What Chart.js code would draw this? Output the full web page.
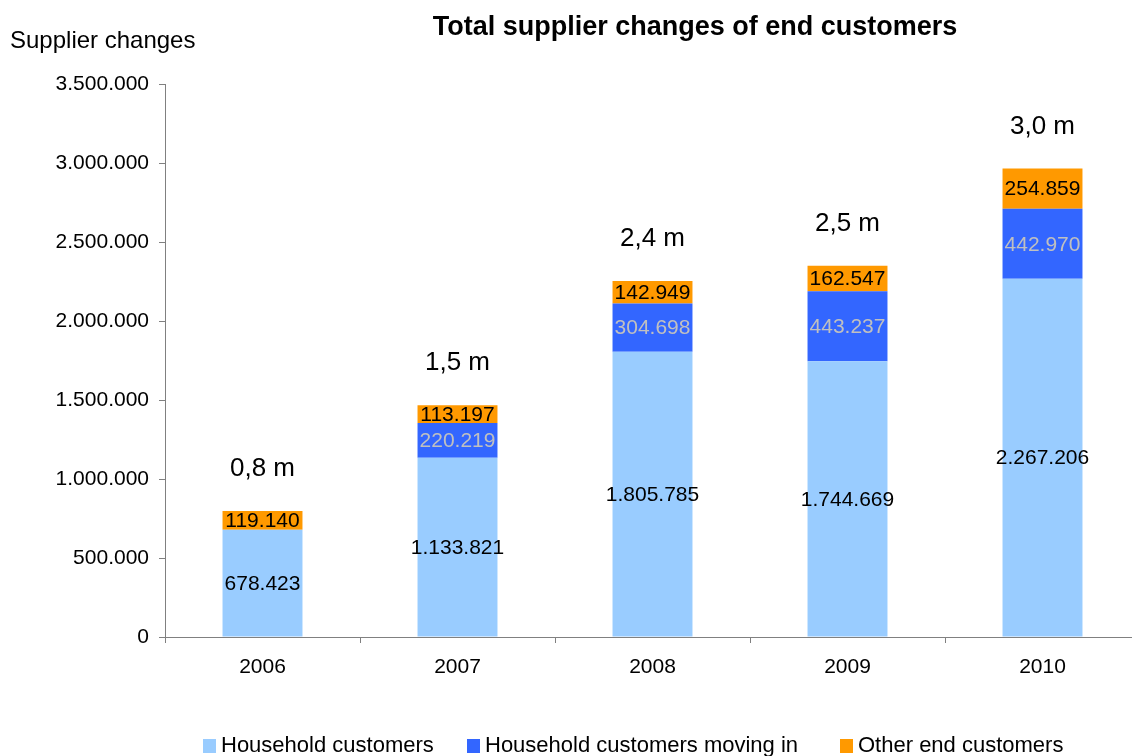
<!DOCTYPE html>
<html>
<head>
<meta charset="utf-8">
<script src="https://cdn.jsdelivr.net/npm/chart.js@4"></script>
<style>
html,body{margin:0;padding:0;background:#fff;overflow:hidden;width:1132px;height:756px;}
#wrap{width:1150px;height:756px;}
</style>
</head>
<body>
<div id="wrap"><canvas id="c" width="1150" height="756"></canvas></div>
<script>
const categories = ['2006', '2007', '2008', '2009', '2010'];
const householdCustomers = [678423, 1133821, 1805785, 1744669, 2267206];
const householdMovingIn = [null, 220219, 304698, 443237, 442970];
const otherEndCustomers = [119140, 113197, 142949, 162547, 254859];
const totalLabels = ['0,8 m', '1,5 m', '2,4 m', '2,5 m', '3,0 m'];
const seriesNames = ['Household customers', 'Household customers moving in', 'Other end customers'];
const yTicks = [0, 500000, 1000000, 1500000, 2000000, 2500000, 3000000, 3500000];

const FONT = '"Liberation Sans", Arial, sans-serif';
const fmt = v => String(Math.round(v)).replace(/\B(?=(\d{3})+(?!\d))/g, '.');

const labelColors = ['#000000', '#C0C0C0', '#000000'];
const legendX = [203, 467, 840];

const overlay = {
  id: 'overlay',
  afterDatasetsDraw(chart) {
    const ctx = chart.ctx;
    ctx.save();
    chart.data.datasets.forEach((ds, di) => {
      const meta = chart.getDatasetMeta(di);
      meta.data.forEach((el, i) => {
        const v = ds.data[i];
        if (v == null || v === 0) return;
        const p = el.getProps(['x', 'y', 'base'], true);
        ctx.font = '21px ' + FONT;
        ctx.fillStyle = labelColors[di];
        ctx.textAlign = 'center';
        ctx.textBaseline = 'middle';
        ctx.fillText(fmt(v), p.x, (p.y + p.base) / 2 + 1);
      });
    });
    const y = chart.scales.y, x = chart.scales.x;
    categories.forEach((c, i) => {
      const tot = (householdCustomers[i] || 0) + (householdMovingIn[i] || 0) + (otherEndCustomers[i] || 0);
      ctx.font = '26px ' + FONT;
      ctx.fillStyle = '#000';
      ctx.textAlign = 'center';
      ctx.textBaseline = 'middle';
      ctx.fillText(totalLabels[i], x.getPixelForValue(i), y.getPixelForValue(tot) - 42);
    });
    ctx.font = 'bold 27px ' + FONT;
    ctx.fillText('Total supplier changes of end customers', 695, 28);
    ctx.font = '24px ' + FONT;
    ctx.textAlign = 'left';
    ctx.fillText('Supplier changes', 10, 41);
    const ly = 746;
    chart.data.datasets.forEach((ds, di) => {
      const lx = legendX[di];
      ctx.fillStyle = ds.backgroundColor;
      ctx.fillRect(lx, ly - 7, 13, 14);
      ctx.fillStyle = '#000';
      ctx.font = '22px ' + FONT;
      ctx.textAlign = 'left';
      ctx.fillText(ds.label, lx + 18, ly);
    });
    ctx.restore();
  }
};

new Chart(document.getElementById('c'), {
  type: 'bar',
  data: {
    labels: categories,
    datasets: [
      { label: seriesNames[0], data: householdCustomers, backgroundColor: '#99CCFF' },
      { label: seriesNames[1], data: householdMovingIn, backgroundColor: '#3366FF' },
      { label: seriesNames[2], data: otherEndCustomers, backgroundColor: '#FF9900' }
    ]
  },
  options: {
    responsive: false,
    animation: false,
    devicePixelRatio: 1,
    layout: { padding: { top: 84, right: 10, left: 0, bottom: 0 } },
    datasets: { bar: { categoryPercentage: 1, barPercentage: 0.41 } },
    plugins: { legend: { display: false }, title: { display: false }, tooltip: { enabled: false } },
    scales: {
      x: {
        stacked: true,
        afterFit(s) { s.height = 119; },
        grid: { display: true, drawOnChartArea: false, drawTicks: true, tickLength: 6, color: '#808080', offset: true },
        border: { display: true, color: '#808080', width: 1 },
        ticks: { font: { family: FONT, size: 21 }, color: '#000', padding: 12 }
      },
      y: {
        stacked: true,
        min: 0,
        max: 3500000,
        afterFit(s) { s.width = 165; },
        afterBuildTicks(s) { s.ticks = yTicks.map(v => ({ value: v })); },
        grid: { display: true, drawOnChartArea: false, drawTicks: true, tickLength: 6, color: '#808080' },
        border: { display: true, color: '#808080', width: 1 },
        ticks: { font: { family: FONT, size: 21 }, color: '#000', padding: 10, callback: v => fmt(v) }
      }
    }
  },
  plugins: [overlay]
});
</script>
</body>
</html>
